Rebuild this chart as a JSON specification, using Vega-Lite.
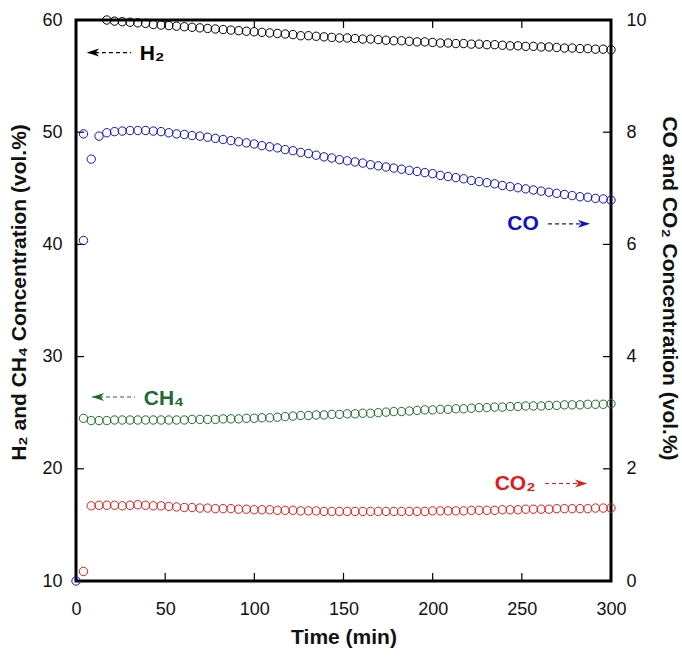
{
"$schema": "https://vega.github.io/schema/vega-lite/v6.json",
"width": 535, "height": 561,
"autosize": {"type": "none"},
"padding": {"left": 76, "top": 20, "right": 71, "bottom": 82},
"background": "white",
"config": {
  "view": {"stroke": "black", "strokeWidth": 3},
  "axis": {"grid": false, "domain": false, "ticks": false, "tickSize": 0, "labelFlush": false,
    "labelFont": "Liberation Sans", "labelFontSize": 18, "labelColor": "#111",
    "titleFont": "Liberation Sans", "titleFontSize": 21, "titleFontWeight": "bold", "titleColor": "#111"}
},
"datasets": {
  "series": [
    {"t":0,"CO":0},
    {"t":4.2,"CH4":24.5,"CO":6.07,"CO2":0.17},
    {"t":4.2,"CO":7.97},
    {"t":8.55,"CH4":24.3,"CO":7.52,"CO2":1.34},
    {"t":12.9,"CH4":24.3,"CO":7.93,"CO2":1.35},
    {"t":17.25,"H2":60.0,"CH4":24.3,"CO":7.99,"CO2":1.35},
    {"t":21.6,"H2":59.9,"CH4":24.35,"CO":8.01,"CO2":1.35},
    {"t":25.95,"H2":59.85,"CH4":24.35,"CO":8.02,"CO2":1.34},
    {"t":30.3,"H2":59.8,"CH4":24.35,"CO":8.03,"CO2":1.35},
    {"t":34.65,"H2":59.75,"CH4":24.35,"CO":8.03,"CO2":1.36},
    {"t":39.0,"H2":59.7,"CH4":24.35,"CO":8.03,"CO2":1.35},
    {"t":43.35,"H2":59.6,"CH4":24.35,"CO":8.02,"CO2":1.34},
    {"t":47.7,"H2":59.55,"CH4":24.35,"CO":8.01,"CO2":1.34},
    {"t":52.05,"H2":59.5,"CH4":24.35,"CO":7.99,"CO2":1.33},
    {"t":56.4,"H2":59.45,"CH4":24.35,"CO":7.97,"CO2":1.32},
    {"t":60.75,"H2":59.4,"CH4":24.35,"CO":7.96,"CO2":1.31},
    {"t":65.1,"H2":59.35,"CH4":24.4,"CO":7.94,"CO2":1.31},
    {"t":69.45,"H2":59.3,"CH4":24.4,"CO":7.93,"CO2":1.3},
    {"t":73.8,"H2":59.25,"CH4":24.4,"CO":7.91,"CO2":1.3},
    {"t":78.15,"H2":59.2,"CH4":24.4,"CO":7.89,"CO2":1.29},
    {"t":82.5,"H2":59.15,"CH4":24.45,"CO":7.87,"CO2":1.29},
    {"t":86.85,"H2":59.1,"CH4":24.45,"CO":7.85,"CO2":1.29},
    {"t":91.2,"H2":59.05,"CH4":24.45,"CO":7.83,"CO2":1.28},
    {"t":95.55,"H2":59.0,"CH4":24.5,"CO":7.81,"CO2":1.28},
    {"t":99.9,"H2":58.95,"CH4":24.5,"CO":7.79,"CO2":1.27},
    {"t":104.25,"H2":58.9,"CH4":24.55,"CO":7.76,"CO2":1.27},
    {"t":108.6,"H2":58.85,"CH4":24.55,"CO":7.74,"CO2":1.27},
    {"t":112.95,"H2":58.8,"CH4":24.6,"CO":7.72,"CO2":1.26},
    {"t":117.3,"H2":58.75,"CH4":24.65,"CO":7.69,"CO2":1.26},
    {"t":121.65,"H2":58.7,"CH4":24.7,"CO":7.67,"CO2":1.26},
    {"t":126.0,"H2":58.6,"CH4":24.75,"CO":7.64,"CO2":1.25},
    {"t":130.35,"H2":58.6,"CH4":24.75,"CO":7.62,"CO2":1.25},
    {"t":134.7,"H2":58.55,"CH4":24.8,"CO":7.59,"CO2":1.25},
    {"t":139.05,"H2":58.5,"CH4":24.8,"CO":7.56,"CO2":1.24},
    {"t":143.4,"H2":58.45,"CH4":24.85,"CO":7.54,"CO2":1.24},
    {"t":147.75,"H2":58.4,"CH4":24.85,"CO":7.51,"CO2":1.24},
    {"t":152.1,"H2":58.4,"CH4":24.9,"CO":7.49,"CO2":1.24},
    {"t":156.45,"H2":58.35,"CH4":24.9,"CO":7.47,"CO2":1.24},
    {"t":160.8,"H2":58.3,"CH4":24.95,"CO":7.45,"CO2":1.24},
    {"t":165.15,"H2":58.3,"CH4":24.95,"CO":7.42,"CO2":1.24},
    {"t":169.5,"H2":58.25,"CH4":25.0,"CO":7.4,"CO2":1.24},
    {"t":173.85,"H2":58.2,"CH4":25.05,"CO":7.38,"CO2":1.24},
    {"t":178.2,"H2":58.15,"CH4":25.1,"CO":7.36,"CO2":1.24},
    {"t":182.55,"H2":58.15,"CH4":25.1,"CO":7.34,"CO2":1.24},
    {"t":186.9,"H2":58.1,"CH4":25.15,"CO":7.32,"CO2":1.24},
    {"t":191.25,"H2":58.05,"CH4":25.2,"CO":7.3,"CO2":1.24},
    {"t":195.6,"H2":58.05,"CH4":25.25,"CO":7.28,"CO2":1.24},
    {"t":199.95,"H2":58.0,"CH4":25.25,"CO":7.26,"CO2":1.25},
    {"t":204.3,"H2":57.95,"CH4":25.3,"CO":7.23,"CO2":1.25},
    {"t":208.65,"H2":57.95,"CH4":25.3,"CO":7.21,"CO2":1.25},
    {"t":213.0,"H2":57.9,"CH4":25.35,"CO":7.19,"CO2":1.25},
    {"t":217.35,"H2":57.9,"CH4":25.35,"CO":7.17,"CO2":1.25},
    {"t":221.7,"H2":57.85,"CH4":25.4,"CO":7.14,"CO2":1.26},
    {"t":226.05,"H2":57.85,"CH4":25.45,"CO":7.12,"CO2":1.26},
    {"t":230.4,"H2":57.8,"CH4":25.45,"CO":7.1,"CO2":1.26},
    {"t":234.75,"H2":57.8,"CH4":25.5,"CO":7.08,"CO2":1.26},
    {"t":239.1,"H2":57.75,"CH4":25.5,"CO":7.05,"CO2":1.27},
    {"t":243.45,"H2":57.7,"CH4":25.55,"CO":7.03,"CO2":1.27},
    {"t":247.8,"H2":57.7,"CH4":25.55,"CO":7.01,"CO2":1.27},
    {"t":252.15,"H2":57.65,"CH4":25.6,"CO":6.99,"CO2":1.28},
    {"t":256.5,"H2":57.65,"CH4":25.6,"CO":6.97,"CO2":1.28},
    {"t":260.85,"H2":57.6,"CH4":25.6,"CO":6.95,"CO2":1.28},
    {"t":265.2,"H2":57.6,"CH4":25.65,"CO":6.93,"CO2":1.28},
    {"t":269.55,"H2":57.55,"CH4":25.65,"CO":6.91,"CO2":1.29},
    {"t":273.9,"H2":57.5,"CH4":25.7,"CO":6.89,"CO2":1.29},
    {"t":278.25,"H2":57.5,"CH4":25.7,"CO":6.87,"CO2":1.29},
    {"t":282.6,"H2":57.45,"CH4":25.7,"CO":6.85,"CO2":1.29},
    {"t":286.95,"H2":57.45,"CH4":25.75,"CO":6.84,"CO2":1.29},
    {"t":291.3,"H2":57.4,"CH4":25.75,"CO":6.82,"CO2":1.3},
    {"t":295.65,"H2":57.4,"CH4":25.75,"CO":6.81,"CO2":1.3},
    {"t":300.0,"H2":57.35,"CH4":25.8,"CO":6.79,"CO2":1.3}
  ],
  "notes": [
    {"s":"H2","label":"H₂","t":42.6,"v":57.0},
    {"s":"CO","label":"CO","t":250.7,"v":41.85},
    {"s":"CH4","label":"CH₄","t":49.3,"v":26.19},
    {"s":"CO2","label":"CO₂","t":246.2,"v":18.63}
  ],
  "arrows": [
    {"s":"H2","t1":6.7,"t2":30.8,"v":57.1},
    {"s":"CO","t1":264.7,"t2":288.2,"v":41.83},
    {"s":"CH4","t1":9.0,"t2":33.1,"v":26.4},
    {"s":"CO2","t1":263.0,"t2":286.5,"v":18.69}
  ],
  "heads": [
    {"s":"H2","dir":"left","t":9.5,"v":57.1},
    {"s":"CO","dir":"right","t":284.9,"v":41.83},
    {"s":"CH4","dir":"left","t":12.3,"v":26.4},
    {"s":"CO2","dir":"right","t":283.2,"v":18.69}
  ],
  "xticks": [{"x":0},{"x":50},{"x":100},{"x":150},{"x":200},{"x":250},{"x":300}],
  "yticks": [{"y":10},{"y":20},{"y":30},{"y":40},{"y":50},{"y":60}]
},
"layer": [
  {"layer": [
    {"data": {"name": "series"},
     "transform": [{"fold": ["H2","CH4"], "as": ["s","v"]}],
     "mark": {"type": "point", "filled": false, "size": 70, "strokeWidth": 1, "opacity": 1},
     "encoding": {
       "x": {"field": "t", "type": "quantitative", "scale": {"domain": [0,300], "nice": false},
             "axis": {"values": [0,50,100,150,200,250,300], "title": "Time (min)", "labelPadding": 19, "titlePadding": 8}},
       "y": {"field": "v", "type": "quantitative", "scale": {"domain": [10,60], "nice": false, "zero": false},
             "axis": {"values": [10,20,30,40,50,60], "title": "H₂ and CH₄ Concentration (vol.%)", "labelPadding": 14, "titlePadding": 12, "titleY": 272}},
       "color": {"field": "s", "type": "nominal",
                 "scale": {"domain": ["H2","CO","CH4","CO2"], "range": ["#000000","#1010C8","#1E6B32","#E81818"]},
                 "legend": null}
     }},
    {"data": {"name": "xticks"},
     "mark": {"type": "rule", "color": "black", "strokeWidth": 1.2},
     "encoding": {"x": {"field": "x", "type": "quantitative"}, "y": {"datum": 10, "type": "quantitative"}, "y2": {"datum": 10.72}}},
    {"data": {"name": "xticks"},
     "mark": {"type": "rule", "color": "black", "strokeWidth": 1.2},
     "encoding": {"x": {"field": "x", "type": "quantitative"}, "y": {"datum": 60, "type": "quantitative"}, "y2": {"datum": 59.28}}},
    {"data": {"name": "yticks"},
     "mark": {"type": "rule", "color": "black", "strokeWidth": 1.2},
     "encoding": {"y": {"field": "y", "type": "quantitative"}, "x": {"datum": 0, "type": "quantitative"}, "x2": {"datum": 4.5}}},
    {"data": {"name": "yticks"},
     "mark": {"type": "rule", "color": "black", "strokeWidth": 1.2},
     "encoding": {"y": {"field": "y", "type": "quantitative"}, "x": {"datum": 295.5, "type": "quantitative"}, "x2": {"datum": 300}}},
    {"data": {"name": "arrows"},
     "mark": {"type": "rule", "strokeDash": [4,3], "strokeWidth": 1.2},
     "encoding": {
       "x": {"field": "t1", "type": "quantitative"},
       "x2": {"field": "t2"},
       "y": {"field": "v", "type": "quantitative"},
       "color": {"field": "s", "type": "nominal", "legend": null}
     }},
    {"data": {"name": "heads"},
     "mark": {"type": "point", "filled": true, "size": 150, "opacity": 1, "strokeWidth": 0},
     "encoding": {
       "x": {"field": "t", "type": "quantitative"},
       "y": {"field": "v", "type": "quantitative"},
       "shape": {"field": "dir", "type": "nominal",
                 "scale": {"domain": ["left","right"], "range": ["M-1,0L1,-0.65L0.45,0L1,0.65Z","M1,0L-1,-0.65L-0.45,0L-1,0.65Z"]},
                 "legend": null},
       "color": {"field": "s", "type": "nominal", "legend": null}
     }},
    {"data": {"name": "notes"},
     "mark": {"type": "text", "font": "Liberation Sans", "fontSize": 21, "fontWeight": "bold", "align": "center", "baseline": "middle"},
     "encoding": {
       "x": {"field": "t", "type": "quantitative"},
       "y": {"field": "v", "type": "quantitative"},
       "text": {"field": "label"},
       "color": {"field": "s", "type": "nominal", "legend": null}
     }}
  ]},
  {"data": {"name": "series"},
   "transform": [{"fold": ["CO","CO2"], "as": ["s","v"]}],
   "mark": {"type": "point", "filled": false, "size": 70, "strokeWidth": 1, "opacity": 1},
   "encoding": {
     "x": {"field": "t", "type": "quantitative"},
     "y": {"field": "v", "type": "quantitative", "scale": {"domain": [0,10], "nice": false},
           "axis": {"orient": "right", "values": [0,2,4,6,8,10], "title": "CO and CO₂ Concentration (vol.%)", "labelPadding": 15, "titlePadding": 12, "titleY": 268}},
     "color": {"field": "s", "type": "nominal", "legend": null}
   }}
],
"resolve": {"scale": {"y": "independent"}}
}
